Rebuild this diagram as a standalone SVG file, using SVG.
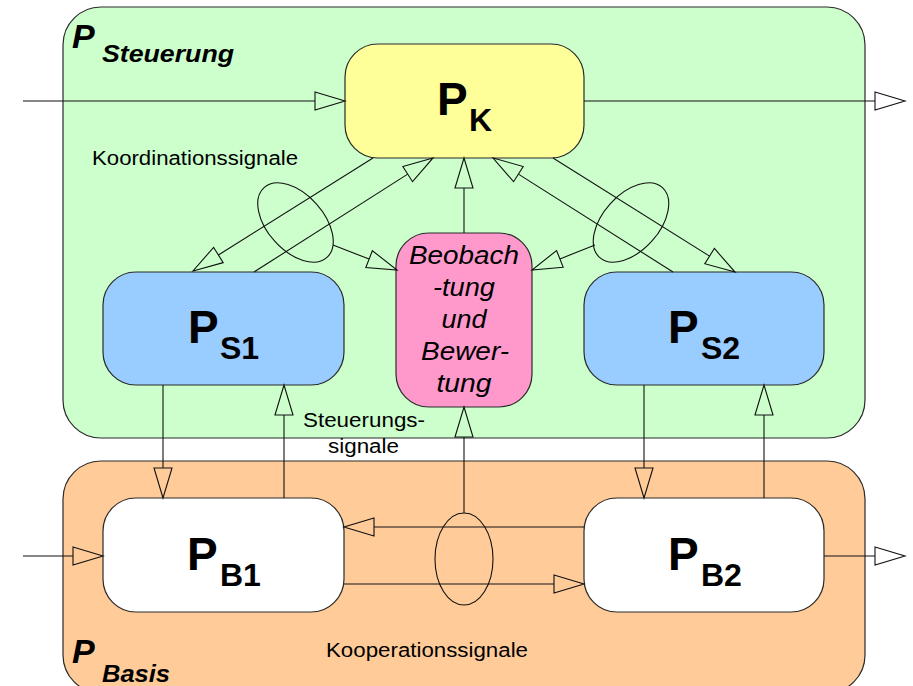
<svg xmlns="http://www.w3.org/2000/svg" width="913" height="686" viewBox="0 0 913 686">
  <defs>
    <style>
      .area { stroke: #2a2a2a; stroke-width: 1.2; }
      .box { stroke: #2a2a2a; stroke-width: 1.2; }
      .wire { fill: none; stroke: #111; stroke-width: 1.1; marker-end: url(#tri); }
      .ring { fill: none; stroke: #111; stroke-width: 1.1; }
      .big { font-family: "Liberation Sans", Arial, sans-serif; font-weight: bold; fill: #000; }
      .lbl { font-family: "Liberation Sans", Arial, sans-serif; font-size: 20px; fill: #000; }
      .ital { font-family: "Liberation Sans", Arial, sans-serif; font-style: italic; font-size: 25px; fill: #000; text-anchor: middle; }
      .title { font-family: "Liberation Sans", Arial, sans-serif; font-style: italic; font-weight: bold; fill: #000; }
    </style>
    <marker id="tri" markerUnits="userSpaceOnUse" markerWidth="32" markerHeight="20" viewBox="-1 -10 32 20" refX="0" refY="0" orient="auto" overflow="visible">
      <path d="M0,-9 L30,0 L0,9 Z" fill="none" stroke="#111" stroke-width="1.1"/>
    </marker>
  </defs>

  <rect width="913" height="686" fill="#ffffff"/>

  <!-- control layer -->
  <g id="steuerung">
    <rect class="area" x="63" y="7" width="802" height="431" rx="38" fill="#ccffcc"/>
    <text class="title" x="72" y="48" font-size="34">P</text>
    <text class="title" x="102" y="62" font-size="24" textLength="132" lengthAdjust="spacingAndGlyphs">Steuerung</text>
  </g>

  <!-- base layer -->
  <g id="basis">
    <rect class="area" x="63" y="461" width="802" height="232" rx="38" fill="#ffcc99"/>
    <text class="title" x="72" y="663" font-size="34">P</text>
    <text class="title" x="102" y="682" font-size="24" textLength="68" lengthAdjust="spacingAndGlyphs">Basis</text>
  </g>

  <g id="pk">
    <rect class="box" x="345" y="44" width="239" height="114" rx="33" fill="#ffff99"/>
    <text class="big" x="437" y="115" font-size="46">P</text>
    <text class="big" x="469" y="131" font-size="32">K</text>
  </g>

  <g id="ps1">
    <rect class="box" x="103" y="272" width="241" height="113" rx="33" fill="#99ccff"/>
    <text class="big" x="188" y="343" font-size="46">P</text>
    <text class="big" x="220" y="359" font-size="32">S1</text>
  </g>

  <g id="ps2">
    <rect class="box" x="584" y="272" width="240" height="113" rx="33" fill="#99ccff"/>
    <text class="big" x="668" y="343" font-size="46">P</text>
    <text class="big" x="701" y="359" font-size="32">S2</text>
  </g>

  <g id="beobachtung">
    <rect class="box" x="396" y="233" width="136" height="174" rx="33" fill="#ff99cc"/>
    <text class="ital" x="464" y="264" textLength="110" lengthAdjust="spacingAndGlyphs">Beobach</text>
    <text class="ital" x="464" y="296" textLength="62" lengthAdjust="spacingAndGlyphs">-tung</text>
    <text class="ital" x="464" y="328" textLength="45" lengthAdjust="spacingAndGlyphs">und</text>
    <text class="ital" x="465" y="360" textLength="88" lengthAdjust="spacingAndGlyphs">Bewer-</text>
    <text class="ital" x="464" y="392" textLength="55" lengthAdjust="spacingAndGlyphs">tung</text>
  </g>

  <g id="pb1">
    <rect class="box" x="103" y="498" width="241" height="114" rx="33" fill="#ffffff"/>
    <text class="big" x="187" y="570" font-size="46">P</text>
    <text class="big" x="220" y="586" font-size="32">B1</text>
  </g>

  <g id="pb2">
    <rect class="box" x="584" y="498" width="240" height="114" rx="33" fill="#ffffff"/>
    <text class="big" x="668" y="570" font-size="46">P</text>
    <text class="big" x="701" y="586" font-size="32">B2</text>
  </g>

  <!-- signal lines -->
  <g id="connectors">
    <path class="wire" d="M23,101 L315,101"/>
    <path class="wire" d="M584,101 L875,101"/>
    <path class="wire" d="M373,158 L218.4,255"/>
    <path class="wire" d="M254,272 L407.7,174.1"/>
    <path class="wire" d="M333,245 L369.1,259.1"/>
    <path class="wire" d="M553,158 L709.6,256.1"/>
    <path class="wire" d="M673,272 L518.4,174.1"/>
    <path class="wire" d="M595,245 L559.9,258.9"/>
    <path class="wire" d="M464,233 L464,188"/>
    <path class="wire" d="M464,513 L464,437"/>
    <path class="wire" d="M163,385 L163,468"/>
    <path class="wire" d="M284,498 L284,415"/>
    <path class="wire" d="M644,385 L644,468"/>
    <path class="wire" d="M764,498 L764,415"/>
    <path class="wire" d="M584,527 L374,527"/>
    <path class="wire" d="M344,584 L554,584"/>
    <path class="wire" d="M23,556 L73,556"/>
    <path class="wire" d="M824,556 L875,556"/>
    <ellipse class="ring" cx="0" cy="0" rx="47" ry="28" transform="translate(295.5,222.5) rotate(48)"/>
    <ellipse class="ring" cx="0" cy="0" rx="47" ry="28" transform="translate(631,222.5) rotate(-48)"/>
    <ellipse class="ring" cx="464" cy="559" rx="29" ry="46"/>
  </g>

  <!-- signal group labels -->
  <g id="labels">
    <text class="lbl" x="92" y="165" textLength="206" lengthAdjust="spacingAndGlyphs">Koordinationssignale</text>
    <text class="lbl" x="303" y="427" textLength="122" lengthAdjust="spacingAndGlyphs">Steuerungs-</text>
    <text class="lbl" x="328" y="453" textLength="71" lengthAdjust="spacingAndGlyphs">signale</text>
    <text class="lbl" x="326" y="657" textLength="202" lengthAdjust="spacingAndGlyphs">Kooperationssignale</text>
  </g>
</svg>
